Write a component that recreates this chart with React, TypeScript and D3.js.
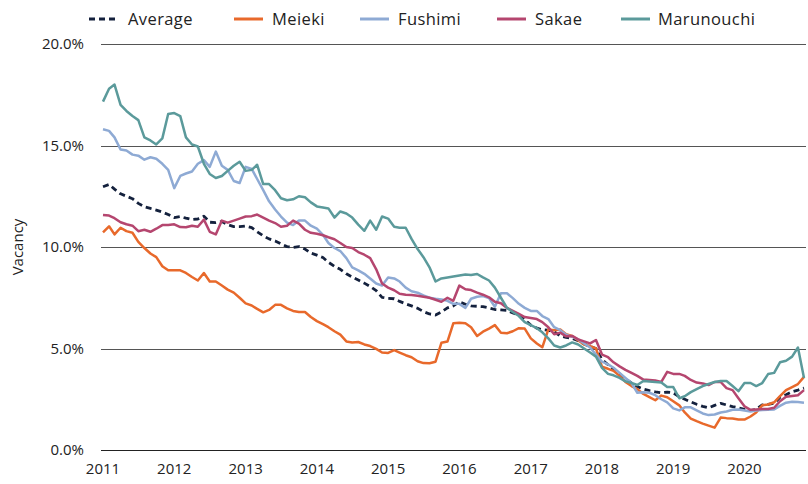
import React from "react";
import * as d3 from "d3";

// monthly, Jan 2011 .. Nov 2020
const firstMonth = new Date(2011, 0, 1);
const lastMonth = new Date(2020, 10, 1);
const months = d3.timeMonth.range(firstMonth, d3.timeMonth.offset(lastMonth, 1));

const yearTicks = [2011, 2012, 2013, 2014, 2015, 2016, 2017, 2018, 2019, 2020];
const vacancyTicks = [0, 5, 10, 15, 20];

const average = [
  12.97, 13.08, 12.85, 12.62, 12.5, 12.38, 12.15, 11.98, 11.9, 11.82, 11.72, 11.6,
  11.45, 11.5, 11.42, 11.35, 11.38, 11.52, 11.22, 11.2, 11.25, 11.1, 11.0, 11.0,
  11.03, 10.95, 10.75, 10.55, 10.4, 10.3, 10.15, 10.02, 9.98, 10.02, 9.9, 9.7,
  9.6, 9.48, 9.25, 9.05, 8.9, 8.68, 8.52, 8.37, 8.22, 8.05, 7.85, 7.52,
  7.47, 7.45, 7.32, 7.2, 7.1, 6.98, 6.82, 6.7, 6.65, 6.8, 7.0, 7.1,
  7.3, 7.18, 7.1, 7.08, 7.06, 7.0, 6.92, 6.9, 6.88, 6.75, 6.65, 6.42,
  6.15, 6.0, 5.93, 5.9, 5.82, 5.62, 5.55, 5.5, 5.38, 5.22, 5.1, 5.0,
  4.45, 4.2, 4.0, 3.75, 3.5, 3.3, 3.12, 3.0, 2.92, 2.86, 2.82, 2.85,
  2.82, 2.62, 2.5, 2.37, 2.25, 2.15, 2.08, 2.2, 2.3, 2.22, 2.14, 2.08,
  2.0, 1.94, 2.0, 2.22, 2.25, 2.3, 2.6, 2.72, 2.87, 2.95, 3.05,
];

const meieki = [
  10.72, 11.02, 10.62, 10.95, 10.78, 10.7, 10.25, 9.95, 9.68, 9.5, 9.05, 8.85,
  8.85, 8.85, 8.72, 8.52, 8.35, 8.72, 8.3, 8.3, 8.1, 7.9, 7.75, 7.5,
  7.22, 7.12, 6.95, 6.78, 6.9, 7.15, 7.15, 6.98, 6.85, 6.8, 6.8, 6.55,
  6.35, 6.2, 6.05, 5.85, 5.68, 5.35, 5.3, 5.32, 5.2, 5.12, 4.98, 4.8,
  4.78, 4.92, 4.8, 4.67, 4.57, 4.37, 4.28, 4.27, 4.35, 5.28, 5.34, 6.24,
  6.27, 6.24, 6.05, 5.62, 5.83, 5.98, 6.15, 5.78, 5.75, 5.85, 6.0, 5.98,
  5.5, 5.25, 5.06, 5.94, 5.9, 5.94, 5.7, 5.62, 5.4, 5.2, 5.12, 5.0,
  4.1, 4.0, 3.9, 3.65, 3.35, 3.15, 3.0, 2.76, 2.6, 2.45, 2.68, 2.6,
  2.4, 2.2, 1.85, 1.55, 1.42, 1.3, 1.2, 1.1, 1.6, 1.57, 1.55, 1.5,
  1.5, 1.65, 1.85, 2.2, 2.24, 2.35, 2.65, 2.95, 3.1, 3.25, 3.6,
];

const fushimi = [
  15.8, 15.72, 15.4, 14.8, 14.75, 14.55, 14.5, 14.3, 14.42, 14.35, 14.1, 13.8,
  12.9, 13.5, 13.62, 13.72, 14.1, 14.28, 13.95, 14.7, 14.0, 13.8, 13.25, 13.15,
  13.95, 13.85, 13.35, 12.8, 12.25, 11.85, 11.5, 11.2, 11.08, 11.3, 11.3, 11.05,
  10.9, 10.6, 10.2, 9.95, 9.8, 9.45, 9.0, 8.85, 8.68, 8.45, 8.2, 8.1,
  8.5, 8.45, 8.3, 8.0, 7.82, 7.75, 7.62, 7.5, 7.45, 7.42, 7.35, 7.2,
  7.2, 7.0, 7.45, 7.55, 7.58, 7.48, 7.06, 7.72, 7.72, 7.48, 7.2, 7.0,
  6.85, 6.85, 6.6, 6.45, 6.05, 5.9, 5.68, 5.57, 5.45, 5.25, 5.05, 4.7,
  4.35, 4.22, 4.05, 3.8, 3.55, 3.3, 2.82, 2.85, 2.82, 2.7, 2.5, 2.35,
  2.05, 1.95, 2.1, 2.1, 1.95, 1.8, 1.72, 1.75, 1.85, 1.9, 1.98, 2.0,
  1.95, 1.9, 1.95, 1.97, 1.98, 2.0, 2.17, 2.33, 2.38, 2.36, 2.33,
];

const sakae = [
  11.58, 11.55, 11.42, 11.22, 11.12, 11.05, 10.78, 10.85, 10.75, 10.9, 11.08, 11.08,
  11.12, 10.98, 10.97, 11.05, 11.0, 11.35, 10.75, 10.62, 11.3, 11.2, 11.3, 11.4,
  11.5, 11.52, 11.6, 11.45, 11.3, 11.18, 11.0, 11.05, 11.3, 11.15, 10.85, 10.7,
  10.65, 10.58, 10.48, 10.38, 10.2, 10.0, 9.95, 9.75, 9.62, 9.45, 8.9, 8.2,
  8.0, 7.87, 7.7, 7.65, 7.64, 7.6, 7.55, 7.5, 7.4, 7.3, 7.5, 7.35,
  8.1, 7.92, 7.88, 7.75, 7.65, 7.52, 7.3, 7.23, 7.0, 6.85, 6.7, 6.55,
  6.5, 6.45, 6.3, 6.05, 5.7, 5.78, 5.6, 5.62, 5.45, 5.35, 5.25, 5.42,
  4.7, 4.57, 4.32, 4.12, 3.95, 3.8, 3.65, 3.47, 3.45, 3.42, 3.35, 3.85,
  3.75, 3.75, 3.65, 3.45, 3.32, 3.28, 3.2, 3.35, 3.35, 3.05, 2.95, 2.55,
  2.15, 1.98, 2.0, 2.02, 2.02, 2.08, 2.4, 2.62, 2.66, 2.7, 2.95,
];

const marunouchi = [
  17.16, 17.8, 18.0, 17.0, 16.7, 16.45, 16.25, 15.4, 15.25, 15.05, 15.35, 16.55,
  16.6, 16.45, 15.4, 15.05, 14.95, 14.1, 13.6, 13.4, 13.5, 13.75, 14.0, 14.2,
  13.75, 13.8, 14.05, 13.1, 13.1, 12.8, 12.4, 12.3, 12.35, 12.5, 12.45, 12.2,
  12.0, 11.95, 11.9, 11.45, 11.75, 11.65, 11.45, 11.1, 10.8, 11.3, 10.85, 11.5,
  11.4, 11.0, 10.95, 10.95, 10.4, 9.9, 9.5, 9.0, 8.3, 8.45, 8.5, 8.55,
  8.6, 8.65, 8.62, 8.67, 8.5, 8.35, 8.0, 7.5, 7.0, 6.8, 6.6, 6.3,
  6.15, 6.0, 5.8, 5.5, 5.15, 5.05, 5.15, 5.3, 5.2, 5.0, 4.8, 4.6,
  4.05, 3.75, 3.68, 3.55, 3.38, 3.3, 3.2, 3.4, 3.38, 3.35, 3.33, 3.1,
  3.1, 2.55, 2.65, 2.85, 3.0, 3.15, 3.25, 3.35, 3.4, 3.4, 3.15, 2.9,
  3.3, 3.3, 3.15, 3.3, 3.74, 3.8, 4.32, 4.4, 4.6, 5.05, 3.55,
];

const series = [
  { name: "Average", values: average, color: "#14213d", dash: "6 4" },
  { name: "Meieki", values: meieki, color: "#e8692b", dash: null },
  { name: "Fushimi", values: fushimi, color: "#8eaad4", dash: null },
  { name: "Sakae", values: sakae, color: "#b5466f", dash: null },
  { name: "Marunouchi", values: marunouchi, color: "#5b9a9b", dash: null },
];

// legend layout (x of line sample, x of label)
const legendPos = [
  [89, 128],
  [234, 272],
  [360, 398],
  [497, 535],
  [621, 658],
];

const font = "'Open Sans', 'Noto Sans', sans-serif";

export default function App() {
  const width = 808;
  const height = 484;

  const x = d3.scaleTime().domain([firstMonth, lastMonth]).range([103, 804]);
  const y = d3.scaleLinear().domain([0, 20]).range([450, 44]);

  const line = d3
    .line<number>()
    .x((d, i) => x(months[i]))
    .y((d) => y(d));

  return (
    <svg
      width={width}
      height={height}
      style={{ position: "absolute", left: 0, top: 0, background: "#fff" }}
      fontFamily={font}
    >
      {/* gridlines */}
      {vacancyTicks.map((t) => (
        <line
          key={t}
          x1={101}
          x2={806}
          y1={Math.round(y(t)) + 0.5}
          y2={Math.round(y(t)) + 0.5}
          stroke={t === 0 ? "#222" : "#555"}
          strokeWidth={1}
        />
      ))}
      {vacancyTicks.map((t) => (
        <text
          key={"l" + t}
          x={84}
          y={y(t)}
          dy="0.35em"
          textAnchor="end"
          fontSize={15}
          fill="#222"
        >
          {d3.format(".1f")(t) + "%"}
        </text>
      ))}
      <text
        transform={`translate(18, ${y(10)}) rotate(-90)`}
        textAnchor="middle"
        dy="0.35em"
        fontSize={15}
        fill="#222"
      >
        Vacancy
      </text>
      {yearTicks.map((yr) => (
        <text
          key={yr}
          x={x(new Date(yr, 0, 1))}
          y={469}
          dy="0.35em"
          textAnchor="middle"
          fontSize={15}
          fill="#222"
        >
          {yr}
        </text>
      ))}

      {/* lines */}
      {series.map((s) => (
        <path
          key={s.name}
          d={line(s.values) || ""}
          fill="none"
          stroke={s.color}
          strokeWidth={s.dash ? 2.8 : 2.5}
          strokeDasharray={s.dash || undefined}
          strokeLinejoin="round"
        />
      ))}

      {/* legend */}
      {series.map((s, i) => (
        <g key={"lg" + s.name}>
          <line
            x1={legendPos[i][0]}
            x2={legendPos[i][0] + 29}
            y1={19}
            y2={19}
            stroke={s.color}
            strokeWidth={3}
            strokeDasharray={s.dash ? "6 4" : undefined}
          />
          <text
            x={legendPos[i][1]}
            y={19}
            dy="0.35em"
            fontSize={16.5}
            letterSpacing={0.4}
            fill="#222"
          >
            {s.name}
          </text>
        </g>
      ))}
    </svg>
  );
}
